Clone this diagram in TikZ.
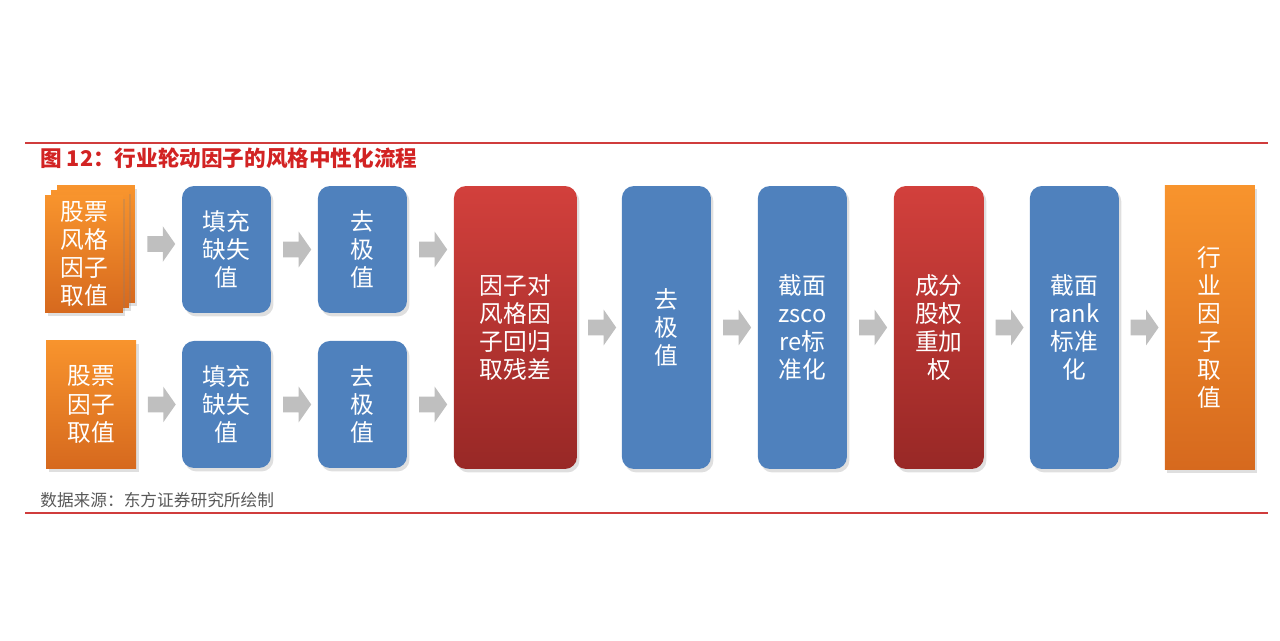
\documentclass[tikz,border=0pt]{standalone}
\usepackage{fontspec}
\setmainfont{Noto Sans CJK SC}
\usetikzlibrary{positioning,calc,shapes.arrows,shadows}
\definecolor{boxblue}{RGB}{79,129,189}
\definecolor{redtop}{RGB}{210,64,60}
\definecolor{redbot}{RGB}{152,40,38}
\definecolor{orangetop}{RGB}{248,148,45}
\definecolor{orangebot}{RGB}{214,105,30}
\definecolor{arrowgray}{RGB}{191,191,191}
\definecolor{rulered}{RGB}{208,60,60}
\definecolor{titlered}{RGB}{210,35,35}
\definecolor{notegray}{RGB}{89,89,89}
\tikzset{
  stepfont/.style={font=\fontsize{13.5pt}{16pt}\selectfont, text=white, align=center, inner sep=0pt, outer sep=0pt},
  softshadow/.style={drop shadow={opacity=0.25, shadow xshift=0.05cm, shadow yshift=-0.07cm}},
  bluebox/.style={stepfont, softshadow, rounded corners=0.24cm, fill=boxblue, minimum width=1.78cm, minimum height=2.54cm},
  redbox/.style={stepfont, softshadow, rounded corners=0.24cm, top color=redtop, bottom color=redbot, minimum width=1.8cm, minimum height=2.54cm},
  orangebox/.style={stepfont, softshadow, top color=orangetop, bottom color=orangebot, minimum width=1.8cm, minimum height=2.56cm},
  card/.style={orangebox, minimum width=1.56cm, minimum height=2.36cm},
  tall/.style={minimum height=5.66cm},
  grayarrow/.style={single arrow, fill=arrowgray, minimum height=0.56cm, inner xsep=0pt, inner ysep=0.15cm,
    single arrow head extend=0.2cm, single arrow tip angle=110, outer sep=0pt}
}

\begin{document}
\begin{tikzpicture}[x=0.02cm, y=-0.02cm]
  \useasboundingbox (0,0) rectangle (1280,640);
  % rules, caption and source
  \draw[rulered, line width=1.2pt] (25,143) -- (1268,143);
  \draw[rulered, line width=1.2pt] (25,513) -- (1268,513);
  \node[anchor=west, inner sep=0pt, text=titlered, font=\fontsize{12.3pt}{14pt}\selectfont\bfseries] (title) at (40,158) {图 12：行业轮动因子的风格中性化流程};
  \node[anchor=west, inner sep=0pt, text=notegray, font=\fontsize{9.5pt}{11pt}\selectfont] (source) at (40,500) {数据来源：东方证券研究所绘制};

  % two input rows
  \node[bluebox] (fill1) at (226.5,249.5) {填充\\缺失\\值};
  \node[bluebox, right=0.94cm of fill1] (cut1) {去\\极\\值};
  \node[bluebox, below=0.56cm of fill1] (fill2) {填充\\缺失\\值};
  \node[bluebox, below=0.56cm of cut1] (cut2) {去\\极\\值};
  \node[orangebox, left=0.92cm of fill2] (src2) {股票\\因子\\取值};
  \node[card] (srcback) at (96,244) {};
  \node[card] (srcmid) at (90,249) {};
  \node[card] (src1) at (84,254) {股票\\风格\\因子\\取值};

  % main chain
  \node[redbox, tall, minimum width=2.46cm, anchor=north west] (reg) at ([xshift=0.94cm]cut1.north east) {因子对\\风格因\\子回归\\取残差};
  \node[bluebox, tall, right=0.9cm of reg] (cut3) {去\\极\\值};
  \node[bluebox, tall, right=0.94cm of cut3] (zsc) {截面\\zsco\\re标\\准化};
  \node[redbox, tall, right=0.94cm of zsc] (wgt) {成分\\股权\\重加\\权};
  \node[bluebox, tall, right=0.92cm of wgt] (rnk) {截面\\rank\\标准\\化};
  \node[orangebox, tall, minimum height=5.7cm, right=0.92cm of rnk] (ind) {行\\业\\因\\子\\取\\值};

  \foreach \a/\b in {srcback/fill1, src2/fill2, fill1/cut1, fill2/cut2, cut1/reg, cut2/reg,
                     reg/cut3, cut3/zsc, zsc/wgt, wgt/rnk, rnk/ind}
    \node[grayarrow] at ($(\a.east)!0.5!(\a.east -| \b.west)$) {};
\end{tikzpicture}
\end{document}
